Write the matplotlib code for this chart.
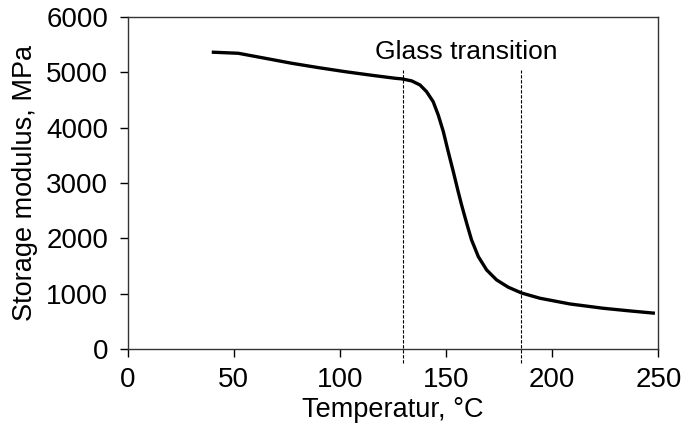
import matplotlib
matplotlib.use("Agg")
import matplotlib.pyplot as plt

# Data
temperature = [39.6, 52.1, 64.7, 77.2, 89.8, 102.4, 114.9, 125.9, 129.3, 133.8,
               137.7, 140.8, 143.9, 146.3, 148.7, 151.0, 153.4, 155.7, 157.3, 159.7,
               162.0, 165.2, 169.1, 173.8, 179.3, 185.6, 194.2, 208.3, 224.0, 236.6,
               248.4]
modulus = [5365, 5345, 5255, 5165, 5086, 5013, 4948, 4894, 4882, 4846,
           4773, 4652, 4472, 4231, 3930, 3569, 3207, 2846, 2606, 2275,
           1974, 1672, 1432, 1252, 1120, 1015, 921, 818, 740, 692,
           650]

transition_bounds = [129.5, 185.5]
dash_range = [-250, 5050]
x_ticks = [0, 50, 100, 150, 200, 250]
y_ticks = [0, 1000, 2000, 3000, 4000, 5000, 6000]
annotation = "Glass transition"
annotation_pos = (159.6, 5375)

plt.rcParams['font.family'] = ['Liberation Sans', 'DejaVu Sans']

fig = plt.figure(figsize=(6.85, 4.36), dpi=100)
ax = fig.add_axes([0.1864, 0.199, 0.7747, 0.762])

ax.plot(temperature, modulus, color='black', linewidth=2.4,
        solid_capstyle='butt', solid_joinstyle='round')
for xb in transition_bounds:
    ax.plot([xb, xb], dash_range, color='black', linewidth=0.8,
            linestyle=(0, (3, 1.5)), clip_on=False)

ax.text(annotation_pos[0], annotation_pos[1], annotation, ha='center', va='center',
        fontsize=19, color='black')

ax.set_xlim(0, 250)
ax.set_ylim(0, 6000)
ax.set_xticks(x_ticks)
ax.set_yticks(y_ticks)
ax.tick_params(axis='both', direction='out', length=6, width=1, labelsize=20,
               colors='black', pad=7)
ax.tick_params(axis='y', pad=8)
for sp in ax.spines.values():
    sp.set_linewidth(1)
    sp.set_color('#333333')

ax.set_xlabel("Temperatur, °C", fontsize=19.5, labelpad=3)
ax.set_ylabel("Storage modulus, MPa", fontsize=19.5, labelpad=6)

fig.savefig("out.png", dpi=100)
